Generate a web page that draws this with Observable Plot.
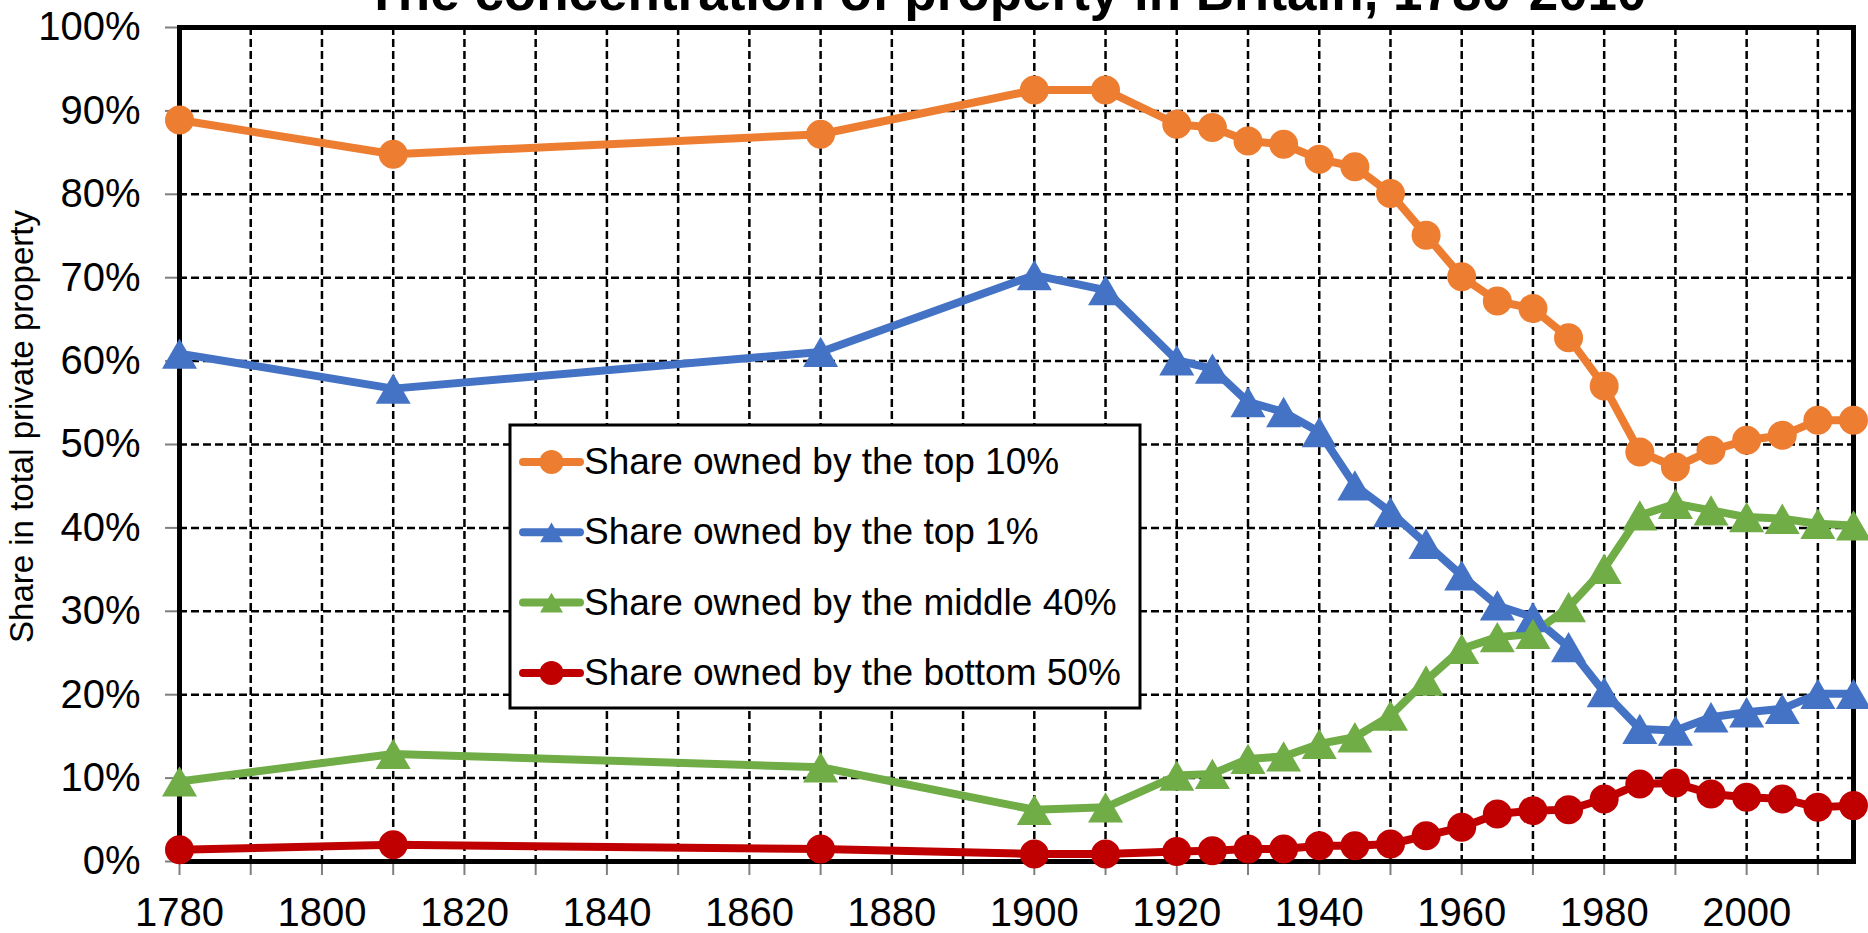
<!DOCTYPE html>
<html>
<head>
<meta charset="utf-8">
<script src="https://cdn.jsdelivr.net/npm/d3@7"></script>
<script src="https://cdn.jsdelivr.net/npm/@observablehq/plot@0.6"></script>
<style>
  html, body { margin: 0; padding: 0; background: white; overflow: hidden; }
  #wrap { position: relative; width: 1868px; height: 933px; font-family: "Liberation Sans", Arial, sans-serif; }
  #title { position: absolute; left: 1006px; top: -35px; transform: translateX(-50%); white-space: nowrap;
           font-size: 53px; font-weight: bold; line-height: 1; color: black; }
</style>
</head>
<body>
<div id="wrap">
  <div id="chart"></div>
  <div id="title">The concentration of property in Britain, 1780-2010</div>
</div>
<script>
// ---- data ----
const years = [1780,1810,1870,1900,1910,1920,1925,1930,1935,1940,1945,1950,1955,1960,1965,1970,1975,1980,1985,1990,1995,2000,2005,2010,2015];
const top10    = [88.9,84.8,87.2,92.5,92.5,88.4,88.0,86.4,86.0,84.2,83.3,80.1,75.1,70.1,67.2,66.3,62.8,57.0,49.1,47.3,49.3,50.5,51.1,52.9,52.9];
const top1     = [60.9,56.7,61.1,70.3,68.5,60.1,59.1,55.1,53.9,51.5,45.1,41.9,38.1,34.3,30.7,29.3,25.7,20.3,15.9,15.7,17.3,17.9,18.3,20.1,20.1];
const middle40 = [9.6,12.9,11.3,6.2,6.5,10.3,10.5,12.3,12.6,14.1,14.9,17.5,21.7,25.5,26.9,27.3,30.5,35.1,41.5,42.9,42.1,41.3,41.1,40.5,40.3];
const bottom50 = [1.4,2.0,1.5,0.9,0.9,1.2,1.3,1.5,1.5,1.9,1.9,2.1,3.1,4.1,5.7,6.1,6.2,7.5,9.3,9.4,8.1,7.7,7.5,6.5,6.7];

const seriesNames  = ["Share owned by the top 10%", "Share owned by the top 1%", "Share owned by the middle 40%", "Share owned by the bottom 50%"];
const seriesValues = [top10, top1, middle40, bottom50];
const seriesColors = ["#ED7D31", "#4472C4", "#70AD47", "#C00000"];
const seriesShapes = ["circle", "triangle", "triangle", "circle"];

const xTicks = d3.range(1780, 2016, 10);
const yTicks = d3.range(0, 101, 10);
const yLabel = "Share in total private property";

// bounding-box-centred upward triangle (Excel style)
const triUp = {
  draw(ctx, size) {
    const y = Math.sqrt(size / (Math.sqrt(3) * 3));
    ctx.moveTo(0, -1.5 * y);
    ctx.lineTo(Math.sqrt(3) * y, 1.5 * y);
    ctx.lineTo(-Math.sqrt(3) * y, 1.5 * y);
    ctx.closePath();
  }
};

const tables = seriesValues.map((vals, i) =>
  years.map((yr, j) => ({year: yr, value: vals[j], series: seriesNames[i]})));

const font = "'Liberation Sans', Arial, sans-serif";
const gridStyle = {stroke: "black", strokeOpacity: 1, strokeWidth: 2.5, strokeDasharray: "8,4"};

const marks = [
  Plot.gridX(xTicks, gridStyle),
  Plot.gridY(yTicks, gridStyle),
  Plot.axisX(xTicks, {tickSize: 14, tickPadding: 22, stroke: "#7f7f7f", strokeWidth: 2, fill: "black",
    fontSize: 40, tickFormat: d => d % 20 === 0 ? String(d) : "", label: null}),
  Plot.axisY(yTicks, {tickSize: 14, tickPadding: 25, stroke: "#7f7f7f", strokeWidth: 2, fill: "black",
    fontSize: 40, tickFormat: d => d + "%", label: null}),
  Plot.frame({stroke: "black", strokeWidth: 5}),
  Plot.text([yLabel], {frameAnchor: "left", text: d => d, rotate: -90, dx: -157, dy: -18,
    fontSize: 33, fill: "black", textAnchor: "middle"})
];
tables.forEach((t, i) => {
  marks.push(Plot.line(t, {x: "year", y: "value", stroke: seriesColors[i], strokeWidth: 8, strokeLinejoin: "round"}));
});
tables.forEach((t, i) => {
  const isTri = seriesShapes[i] === "triangle";
  marks.push(Plot.dot(t, {x: "year", y: "value", fill: seriesColors[i], stroke: "none",
    symbol: isTri ? triUp : "circle", r: isTri ? 13 : 14.5}));
});

const chart = Plot.plot({
  width: 1868, height: 933,
  marginLeft: 179, marginRight: 15, marginTop: 27, marginBottom: 72,
  style: {fontFamily: font, background: "white", color: "black"},
  x: {domain: [1780, 2015]},
  y: {domain: [0, 100]},
  marks
});
document.getElementById("chart").appendChild(chart);

// ---- legend ----
const leg = d3.select("#wrap").append("svg")
  .attr("width", 634).attr("height", 287)
  .style("position", "absolute").style("left", "508px").style("top", "423px");
leg.append("rect").attr("x", 2).attr("y", 2).attr("width", 630).attr("height", 283)
  .attr("fill", "white").attr("stroke", "black").attr("stroke-width", 3);
seriesNames.forEach((name, i) => {
  const g = leg.append("g").attr("transform", `translate(0,${39 + i * 70.3})`);
  g.append("line").attr("x1", 15).attr("x2", 72).attr("y1", 0).attr("y2", 0)
    .attr("stroke", seriesColors[i]).attr("stroke-width", 8).attr("stroke-linecap", "round");
  const isTri = seriesShapes[i] === "triangle";
  const sym = isTri ? d3.symbol(triUp, 12 * 12 * Math.PI * 0.5) : d3.symbol(d3.symbolCircle, 12 * 12 * Math.PI);
  g.append("path").attr("transform", "translate(43.5,0)").attr("d", sym()).attr("fill", seriesColors[i]);
  g.append("text").attr("x", 76).attr("y", 12).text(name)
    .style("font-family", font).style("font-size", "37px").attr("fill", "black");
});
</script>
</body>
</html>
